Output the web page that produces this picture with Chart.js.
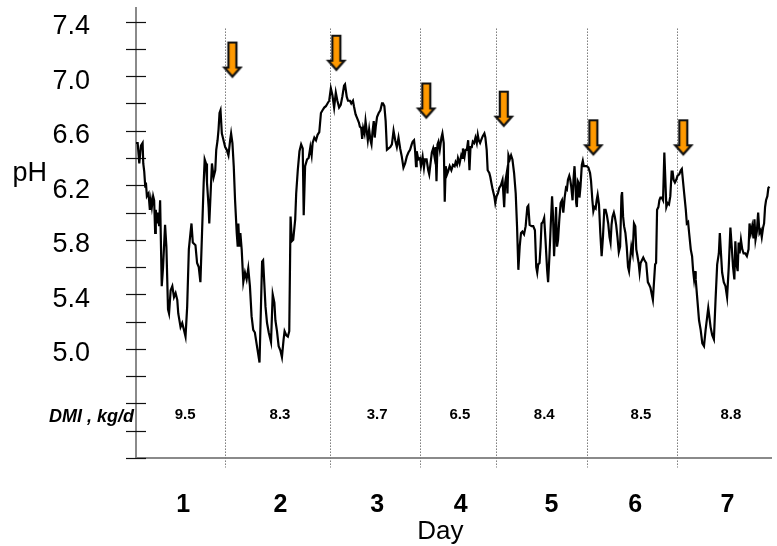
<!DOCTYPE html>
<html>
<head>
<meta charset="utf-8">
<script src="https://cdn.jsdelivr.net/npm/chart.js@4.4.0/dist/chart.umd.min.js"></script>
<style>
  html, body { margin: 0; padding: 0; background: #fff; }
  #wrap { width: 777px; height: 546px; }
</style>
</head>
<body>
<div id="wrap"><canvas id="chart" width="777" height="546"></canvas></div>
<script>
/* ############ */
/* ### Data ### */
/* ############ */

// [hour, pH]
const phTrace = [
    [0, 6.51], [0.44, 6.51], [0.87, 6.36], [1.31, 6.49], [1.75, 6.51], [1.92, 6.36], [2.18, 6.30], [2.45, 6.19],
    [2.62, 6.22], [2.88, 6.12], [3.32, 6.14], [3.67, 6.02], [3.93, 6.09], [4.19, 6.04], [4.54, 6.12], [4.80, 6.09],
    [5.07, 5.85], [5.24, 6.02], [5.50, 5.92], [5.77, 6.00], [6.12, 5.90], [6.38, 6.09], [6.81, 5.46], [7.16, 5.60],
    [7.69, 5.91], [8.04, 5.75], [8.47, 5.29], [8.74, 5.26], [9.17, 5.43], [9.61, 5.46], [10.05, 5.38], [10.48, 5.41],
    [10.92, 5.36], [11.18, 5.26], [11.79, 5.16], [12.23, 5.19], [12.67, 5.14], [13.10, 5.09], [13.54, 5.31], [13.98, 5.73],
    [14.41, 5.85], [14.68, 5.92], [15.03, 5.78], [15.73, 5.76], [16.16, 5.63], [16.60, 5.60], [17.04, 5.49], [17.47, 5.85],
    [17.91, 6.22], [18.17, 6.39], [18.52, 6.36], [18.78, 6.22], [19.22, 6.04], [19.39, 5.92], [19.66, 6.09], [20.09, 6.36],
    [20.53, 6.26], [20.97, 6.31], [21.23, 6.46], [21.58, 6.53], [21.84, 6.61], [22.10, 6.73], [22.36, 6.75], [22.71, 6.58],
    [23.15, 6.53], [23.59, 6.48], [24.02, 6.46], [24.46, 6.42], [24.90, 6.53], [25.16, 6.58], [25.51, 6.51], [25.86, 6.34],
    [26.21, 6.09], [26.65, 5.85], [26.91, 5.75], [27.08, 5.92], [27.34, 5.75], [27.61, 5.85], [27.96, 5.73], [28.39, 5.49],
    [28.83, 5.56], [29.27, 5.51], [29.70, 5.59], [30.14, 5.46], [30.58, 5.24], [31.01, 5.14], [31.45, 5.12], [31.89, 5.04],
    [32.68, 4.90], [33.36, 5.64], [33.63, 5.65], [34.26, 5.31], [34.67, 5.19], [35.12, 5.12], [35.72, 5.05], [36.17, 5.40],
    [36.61, 5.34], [36.88, 5.21], [37.30, 5.13], [37.74, 5.02], [38.19, 4.99], [38.61, 4.94], [39.05, 5.07], [39.31, 5.13],
    [39.76, 5.10], [40.18, 5.09], [40.55, 5.13], [40.89, 5.97], [41.23, 5.79], [41.59, 5.80], [42.12, 5.95], [42.38, 6.14],
    [42.80, 6.31], [43.25, 6.45], [43.69, 6.50], [44.11, 6.47], [44.37, 5.98], [44.74, 6.34], [45.26, 6.39], [45.68, 6.40],
    [46.13, 6.48], [46.47, 6.42], [46.73, 6.51], [47.18, 6.55], [47.62, 6.53], [48.04, 6.57], [48.49, 6.59], [48.93, 6.73],
    [49.35, 6.75], [49.80, 6.77], [50.24, 6.78], [50.66, 6.80], [51.11, 6.82], [51.55, 6.91], [51.97, 6.86], [52.42, 6.77],
    [52.86, 6.88], [53.28, 6.82], [53.73, 6.77], [54.17, 6.79], [54.59, 6.85], [55.04, 6.93], [55.30, 6.94], [55.75, 6.85],
    [56.09, 6.82], [56.61, 6.82], [56.95, 6.80], [57.40, 6.82], [57.66, 6.78], [58.10, 6.72], [58.53, 6.69], [58.97, 6.66],
    [59.23, 6.63], [59.58, 6.62], [59.84, 6.54], [60.10, 6.62], [60.46, 6.58], [60.73, 6.67], [60.99, 6.61], [61.33, 6.53],
    [61.68, 6.61], [62.03, 6.53], [62.30, 6.50], [62.56, 6.59], [62.90, 6.67], [63.16, 6.55], [63.43, 6.63], [63.77, 6.70],
    [64.21, 6.73], [64.66, 6.75], [65.08, 6.80], [65.34, 6.80], [65.71, 6.78], [66.05, 6.67], [66.39, 6.46], [66.83, 6.47],
    [67.28, 6.48], [67.70, 6.50], [68.14, 6.60], [68.58, 6.53], [69.01, 6.48], [69.45, 6.55], [69.89, 6.47], [70.32, 6.41],
    [70.76, 6.33], [71.20, 6.36], [71.63, 6.41], [72.07, 6.44], [72.51, 6.46], [72.94, 6.50], [73.21, 6.52], [73.56, 6.53],
    [73.82, 6.46], [74.08, 6.34], [74.26, 6.45], [74.69, 6.39], [75.13, 6.40], [75.39, 6.34], [75.83, 6.41], [76.18, 6.33],
    [76.44, 6.39], [76.88, 6.39], [77.31, 6.31], [77.58, 6.28], [77.92, 6.36], [78.27, 6.44], [78.62, 6.47], [78.97, 6.41],
    [79.23, 6.48], [79.50, 6.23], [79.76, 6.50], [80.02, 6.52], [80.37, 6.46], [80.81, 6.55], [81.07, 6.58], [81.42, 6.51],
    [81.68, 6.08], [81.94, 6.34], [82.29, 6.28], [82.56, 6.30], [82.99, 6.34], [83.43, 6.31], [83.87, 6.35], [84.30, 6.34],
    [84.56, 6.37], [84.91, 6.35], [85.18, 6.40], [85.61, 6.36], [86.05, 6.42], [86.31, 6.40], [86.49, 6.47], [86.92, 6.41],
    [87.19, 6.46], [87.53, 6.46], [87.88, 6.53], [88.23, 6.31], [88.50, 6.48], [88.84, 6.48], [89.11, 6.52], [89.46, 6.51],
    [89.81, 6.55], [90.16, 6.51], [90.42, 6.57], [90.68, 6.53], [91.03, 6.51], [91.29, 6.53], [91.73, 6.56], [92.17, 6.58],
    [92.43, 6.55], [92.78, 6.46], [93.04, 6.31], [93.47, 6.29], [93.74, 6.26], [94.00, 6.22], [94.35, 6.17], [94.79, 6.12],
    [95.05, 6.07], [95.40, 6.12], [95.75, 6.14], [96.10, 6.18], [96.53, 6.20], [96.97, 6.24], [97.41, 6.04], [97.67, 6.22],
    [98.02, 6.28], [98.28, 6.14], [98.54, 6.42], [98.89, 6.39], [99.24, 6.42], [99.59, 6.39], [100.03, 6.29], [100.46, 6.14],
    [100.81, 5.90], [101.16, 5.58], [101.51, 5.75], [101.86, 5.85], [102.22, 5.86], [102.66, 5.84], [103.09, 5.90], [103.53, 6.04],
    [103.79, 6.05], [104.14, 5.91], [104.67, 5.90], [105.10, 5.90], [105.54, 5.87], [105.89, 5.60], [106.15, 5.56], [106.41, 5.62],
    [106.76, 5.63], [107.03, 5.75], [107.29, 5.92], [107.64, 5.93], [107.99, 5.96], [108.34, 5.80], [108.77, 5.58], [109.03, 5.49],
    [109.38, 5.68], [109.73, 5.91], [110.08, 6.12], [110.34, 5.97], [110.61, 5.68], [110.96, 5.90], [111.13, 6.04], [111.39, 5.75],
    [111.66, 5.80], [112.00, 5.95], [112.35, 6.07], [112.70, 6.09], [113.05, 6.00], [113.40, 6.11], [113.75, 6.18], [114.01, 6.17],
    [114.28, 6.24], [114.63, 6.27], [114.89, 6.24], [115.15, 6.19], [115.50, 6.09], [115.76, 6.25], [116.02, 6.34], [116.20, 6.24],
    [116.46, 6.07], [116.63, 6.04], [116.90, 6.23], [117.07, 6.22], [117.33, 6.11], [117.60, 6.19], [117.95, 6.35], [118.21, 6.38],
    [118.47, 6.34], [118.82, 6.34], [119.26, 6.34], [119.69, 6.33], [120.13, 6.29], [120.39, 6.23], [120.74, 6.09], [121.00, 6.01],
    [121.27, 6.04], [121.61, 6.03], [121.88, 6.09], [122.14, 6.13], [122.49, 6.06], [122.84, 5.85], [123.19, 5.68], [123.54, 5.82],
    [123.89, 6.02], [124.24, 6.02], [124.58, 5.98], [124.93, 5.92], [125.28, 5.82], [125.55, 5.78], [125.81, 5.91], [126.07, 5.97],
    [126.42, 6.00], [126.68, 5.97], [127.03, 5.91], [127.38, 5.82], [127.73, 5.71], [128.08, 5.75], [128.43, 6.12], [128.60, 6.15],
    [128.87, 5.97], [129.13, 5.90], [129.48, 5.85], [129.83, 5.75], [130.18, 5.60], [130.44, 5.57], [130.70, 5.65], [131.05, 5.75],
    [131.40, 5.70], [131.75, 5.92], [132.10, 5.90], [132.36, 5.73], [132.62, 5.69], [132.97, 5.63], [133.23, 5.56], [133.50, 5.63],
    [133.85, 5.65], [134.20, 5.67], [134.54, 5.65], [134.98, 5.63], [135.42, 5.49], [135.77, 5.47], [136.10, 5.45], [136.75, 5.36],
    [137.34, 5.62], [137.60, 5.63], [137.86, 6.02], [138.21, 6.04], [138.47, 6.09], [138.74, 6.11], [139.09, 6.11], [139.44, 6.09],
    [139.78, 6.44], [140.05, 6.24], [140.31, 6.04], [140.66, 6.07], [141.01, 6.06], [141.36, 6.12], [141.71, 6.30], [141.97, 6.30],
    [142.23, 6.24], [142.58, 6.22], [142.93, 6.24], [143.28, 6.27], [143.72, 6.28], [144.15, 6.31], [144.41, 6.32], [145.03, 6.14],
    [145.46, 6.02], [145.73, 5.92], [146.07, 5.93], [146.34, 5.85], [146.77, 5.73], [147.12, 5.68], [147.38, 5.58], [147.65, 5.51],
    [147.91, 5.57], [148.08, 5.51], [148.52, 5.36], [148.96, 5.21], [149.39, 5.14], [149.83, 5.04], [150.27, 5.02], [150.70, 5.14],
    [151.14, 5.24], [151.40, 5.30], [151.67, 5.24], [152.02, 5.16], [152.45, 5.10], [152.89, 5.07], [153.33, 5.36], [153.76, 5.62],
    [154.20, 5.70], [154.46, 5.85], [154.81, 5.68], [155.07, 5.56], [155.51, 5.49], [155.95, 5.46], [156.38, 5.38], [156.82, 5.60],
    [157.26, 5.89], [157.61, 5.75], [157.96, 5.60], [158.31, 5.51], [158.57, 5.79], [158.83, 5.63], [159.18, 5.57], [159.44, 5.78],
    [159.70, 5.70], [160.05, 5.80], [160.40, 5.73], [160.75, 5.70], [161.19, 5.70], [161.62, 5.68], [162.06, 5.73], [162.32, 5.92],
    [162.67, 5.85], [163.02, 5.90], [163.37, 5.81], [163.63, 5.95], [163.90, 5.80], [164.25, 5.86], [164.60, 6.00], [164.95, 5.85],
    [165.29, 5.87], [165.56, 5.82], [165.91, 5.89], [166.17, 5.92], [166.43, 6.04], [166.69, 6.09], [167.04, 6.12], [167.30, 6.18],
    [167.57, 6.19]
];

// Axis
const yTickValues = [4.2, 4.4, 4.6, 4.8, 5.0, 5.2, 5.4, 5.6, 5.8, 6.0, 6.2, 6.4, 6.6, 6.8, 7.0, 7.2, 7.4];
const yLabelValues = [5.0, 5.4, 5.8, 6.2, 6.6, 7.0, 7.4];

// Days (hours)
const dayLabels = ['1', '2', '3', '4', '5', '6', '7'];
const dayCenters = [12.5, 38.2, 63.8, 85.9, 109.9, 132.1, 156.5];
const dayBoundaries = [23.6, 51.2, 75.1, 95.3, 119.2, 143.1];

// Dry matter intake per day
const dmiValues = ['9.5', '8.3', '3.7', '6.5', '8.4', '8.5', '8.8'];
const dmiHours = [13.0, 38.1, 63.8, 85.7, 108.0, 133.6, 157.4];

// Feeding arrows (tip position)
const arrowHours = [25.5, 53.0, 76.8, 97.3, 121.0, 144.8];
const arrowPh = [6.99, 7.04, 6.69, 6.63, 6.42, 6.42];

/* ############# */
/* ### Style ### */
/* ############# */

const FONT = '"Liberation Sans", Arial, sans-serif';
const AXIS_GREY = '#8a8a8a';

function makeArrow() {
    // Tip sits at the canvas centre so the point value is the tip
    const c = document.createElement('canvas');
    c.width = 22;
    c.height = 76;
    const g = c.getContext('2d');
    g.beginPath();
    g.moveTo(7, 3);
    g.lineTo(15, 3);
    g.lineTo(15, 28);
    g.lineTo(19, 28);
    g.lineTo(11, 37);
    g.lineTo(3, 28);
    g.lineTo(7, 28);
    g.closePath();
    g.fillStyle = '#ff9900';
    g.fill();
    g.lineWidth = 2.2;
    g.strokeStyle = '#111';
    g.stroke();
    return c;
}

const decorations = {
    id: 'decorations',
    beforeDatasetsDraw(chart) {
        const { ctx, scales: { x, y } } = chart;
        ctx.save();

        // Dotted day dividers
        ctx.strokeStyle = '#7a7a7a';
        ctx.lineWidth = 1;
        ctx.setLineDash([1.5, 1.5]);
        dayBoundaries.forEach(h => {
            const px = Math.round(x.getPixelForValue(h)) + 0.5;
            ctx.beginPath();
            ctx.moveTo(px, y.getPixelForValue(7.35));
            ctx.lineTo(px, y.getPixelForValue(4.13));
            ctx.stroke();
        });
        ctx.setLineDash([]);

        // Tick marks crossing the pH axis
        ctx.strokeStyle = '#111';
        ctx.lineWidth = 1.2;
        const ax = x.left;
        yTickValues.forEach(v => {
            const py = Math.round(y.getPixelForValue(v)) + 0.5;
            ctx.beginPath();
            ctx.moveTo(ax - 10, py);
            ctx.lineTo(ax + 10, py);
            ctx.stroke();
        });
        ctx.restore();
    },
    afterDraw(chart) {
        const { ctx, scales: { x, y }, chartArea } = chart;
        ctx.save();
        ctx.fillStyle = '#000';

        // pH label
        ctx.font = '27px ' + FONT;
        ctx.textAlign = 'right';
        ctx.textBaseline = 'alphabetic';
        ctx.fillText('pH', 47, y.getPixelForValue(6.2) - 4);

        // DMI row
        ctx.font = 'italic bold 18px ' + FONT;
        ctx.textBaseline = 'middle';
        ctx.fillText('DMI , kg/d', chartArea.left - 2, y.getPixelForValue(4.5));

        ctx.font = 'bold 15px ' + FONT;
        ctx.textAlign = 'center';
        dmiValues.forEach((v, i) => {
            ctx.fillText(v, x.getPixelForValue(dmiHours[i]), y.getPixelForValue(4.52));
        });

        // Axis title
        ctx.font = '26px ' + FONT;
        ctx.textBaseline = 'alphabetic';
        ctx.fillText('Day', x.getPixelForValue(80.5), chartArea.bottom + 81);
        ctx.restore();
    }
};

/* ############# */
/* ### Chart ### */
/* ############# */

const arrowImage = makeArrow();

new Chart(document.getElementById('chart').getContext('2d'), {
    type: 'line',
    data: {
        datasets: [{
                type: 'scatter',
                label: 'Feeding',
                data: arrowHours.map((h, i) => ({ x: h, y: arrowPh[i] })),
                pointStyle: arrowImage,
                pointRadius: 5,
                order: 0
            },
            {
                label: 'pH',
                data: phTrace.map(p => ({ x: p[0], y: p[1] })),
                borderColor: '#000',
                borderWidth: 2.2,
                pointRadius: 0,
                tension: 0,
                fill: false,
                order: 1
            }
        ]
    },
    options: {
        responsive: false,
        animation: false,
        events: [],
        layout: {
            padding: { top: 8, right: 1, bottom: 0, left: 0 }
        },
        plugins: {
            legend: { display: false },
            tooltip: { enabled: false }
        },
        scales: {
            x: {
                type: 'linear',
                min: 0,
                max: 168,
                afterBuildTicks: s => { s.ticks = dayCenters.map(v => ({ value: v })); },
                afterFit: s => { s.height = 88; s.paddingLeft = 0; s.paddingRight = 0; },
                grid: { display: false },
                border: { display: true, color: AXIS_GREY, width: 2 },
                ticks: {
                    autoSkip: false,
                    maxRotation: 0,
                    padding: 24,
                    color: '#000',
                    font: { family: FONT, size: 25, weight: 'bold' },
                    callback: (v, i) => dayLabels[i]
                }
            },
            y: {
                type: 'linear',
                min: 4.2,
                max: 7.5,
                afterBuildTicks: s => { s.ticks = yTickValues.map(v => ({ value: v })); },
                afterFit: s => { s.width = 136; s.paddingTop = 0; s.paddingBottom = 0; },
                grid: { display: false },
                border: { display: true, color: AXIS_GREY, width: 2 },
                ticks: {
                    padding: 38,
                    labelOffset: 5,
                    color: '#000',
                    font: { family: FONT, size: 27 },
                    callback: v => yLabelValues.some(l => Math.abs(l - v) < 1e-6) ? v.toFixed(1) : ''
                }
            }
        }
    },
    plugins: [decorations]
});
</script>
</body>
</html>
